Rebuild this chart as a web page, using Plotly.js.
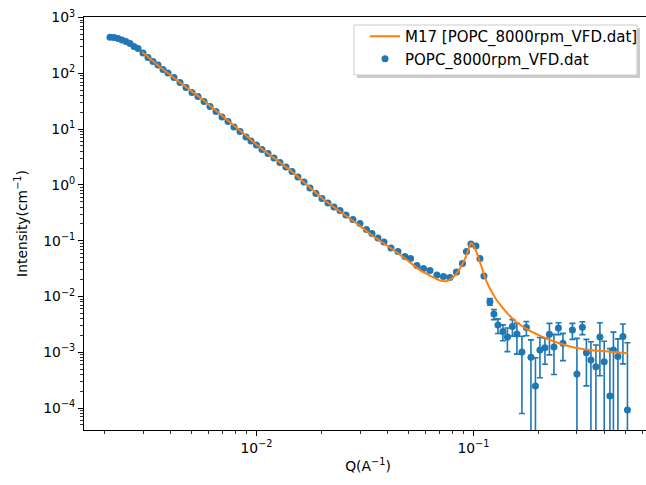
<!DOCTYPE html>
<html><head><meta charset="utf-8">
<script src="https://cdn.plot.ly/plotly-3.0.1.min.js"></script>
<style>html,body{margin:0;padding:0;overflow:hidden;background:#fff}</style>
</head><body><div id="chart" style="width:660px;height:485px"></div>
<script>
const seriesNames = ['M17 [POPC_8000rpm_VFD.dat]', 'POPC_8000rpm_VFD.dat'];

const q = [
  0.002113, 0.002204, 0.002300, 0.002400, 0.002504, 0.002613, 0.002726, 0.002844, 0.002999, 0.003162,
  0.003334, 0.003517, 0.003708, 0.003910, 0.004167, 0.004442, 0.004733, 0.005045, 0.005376, 0.005731,
  0.006107, 0.006508, 0.006934, 0.007391, 0.007876, 0.008395, 0.008947, 0.009434, 0.01000, 0.01060,
  0.01130, 0.01204, 0.01283, 0.01367, 0.01458, 0.01553, 0.01656, 0.01764, 0.01880, 0.02004,
  0.02136, 0.02276, 0.02426, 0.02585, 0.02784, 0.02999, 0.03213, 0.03406, 0.03631, 0.03870,
  0.04168, 0.04489, 0.04833, 0.05126, 0.05490, 0.05884, 0.06303, 0.06788, 0.07275, 0.07793,
  0.08350, 0.08897, 0.09284, 0.09738, 0.1027, 0.1072, 0.1118, 0.1191, 0.1243, 0.1297,
  0.1367, 0.1434, 0.1512, 0.1586, 0.1673, 0.1754, 0.1841, 0.1931, 0.2025, 0.2136,
  0.2240, 0.2350, 0.2465, 0.2585, 0.2859, 0.2999, 0.3178, 0.3316, 0.3479, 0.3668,
  0.3827, 0.4006, 0.4256, 0.4418, 0.4634, 0.4886, 0.5126
];
const intensity = [
  442, 438, 420, 395, 371.5, 342, 302, 278, 231, 191.9,
  162.7, 140.8, 117.0, 101.3, 84.1, 68.4, 55.7, 45.3, 38.4, 31.2,
  25.4, 20.7, 16.5, 13.7, 10.9, 9.06, 7.22, 6.12, 5.19, 4.31,
  3.65, 3.03, 2.52, 2.09, 1.74, 1.39, 1.13, 0.880, 0.701, 0.571,
  0.474, 0.402, 0.348, 0.289, 0.240, 0.203, 0.159, 0.135, 0.112, 0.0948,
  0.0740, 0.0640, 0.0521, 0.0480, 0.0359, 0.0318, 0.0292, 0.0243, 0.0228, 0.0219,
  0.0275, 0.0390, 0.0640, 0.0873, 0.0804, 0.0480, 0.0233, 0.00807, 0.00486, 0.00308,
  0.00236, 0.00188, 0.00290, 0.00213, 0.00101, 0.00278, 0.00082, 0.00025, 0.00110, 0.00121,
  0.00210, 0.00125, 0.00273, 0.00145, 0.00251, 0.000408, 0.00281, 0.00098, 0.000728, 0.000552,
  0.00188, 0.000679, 0.000165, 0.00110, 0.000841, 0.00192, 0.0000924
];
const dI = [
  8, 8, 7, 7, 6, 6, 5, 5, 4, 3.5,
  3, 2.6, 2.2, 1.9, 1.6, 1.3, 1.1, 0.9, 0.75, 0.62,
  0.51, 0.42, 0.34, 0.29, 0.23, 0.19, 0.16, 0.135, 0.115, 0.097,
  0.082, 0.069, 0.058, 0.049, 0.042, 0.034, 0.028, 0.023, 0.019, 0.016,
  0.0135, 0.0116, 0.0102, 0.0087, 0.0074, 0.0064, 0.0052, 0.0046, 0.0039, 0.0035,
  0.0029, 0.0026, 0.0022, 0.0021, 0.0017, 0.0016, 0.0015, 0.0013, 0.0013, 0.0013,
  0.0015, 0.0019, 0.0027, 0.0035, 0.0033, 0.0022, 0.0013, 0.0011, 0.0010, 0.0009,
  0.00075, 0.00085, 0.00095, 0.0012, 0.00093, 0.0008, 0.00085, 0.00055, 0.00075, 0.0006,
  0.0012, 0.00085, 0.00067, 0.00074, 0.0008, 0.00137, 0.00073, 0.00073, 0.00082, 0.0008,
  0.0015, 0.0009, 0.0010, 0.0012, 0.0009, 0.0013, 0.00139
];

const qFit = [
  0.002968, 0.003592, 0.004442, 0.005490, 0.006788, 0.008395, 0.01005, 0.01154, 0.01427, 0.01709,
  0.02025, 0.02426, 0.02874, 0.03442, 0.04123, 0.04937, 0.05669, 0.06303, 0.07008, 0.07545,
  0.08046, 0.08484, 0.08947, 0.09333, 0.09738, 0.1005, 0.1049, 0.1094, 0.1142, 0.1191,
  0.1270, 0.1367, 0.1473, 0.1586, 0.1764, 0.2025, 0.2325, 0.2785, 0.3441, 0.4256, 0.5152
];
const iFit = [
  240.8, 129.7, 68.4, 36.84, 18.64, 9.44, 5.19, 3.43, 1.849, 0.996,
  0.559, 0.3337, 0.2076, 0.1214, 0.0755, 0.04509, 0.02985, 0.02378, 0.01935, 0.01896,
  0.02190, 0.02805, 0.03985, 0.05776, 0.0910, 0.0804, 0.0532, 0.03242, 0.01976, 0.01391,
  0.009019, 0.006222, 0.004472, 0.003420, 0.002616, 0.002000, 0.001594, 0.001270, 0.001100, 0.001025, 0.000960
];

const xTickVals = [0.01, 0.1];
const xTickText = ['10<sup>−2</sup>', '10<sup>−1</sup>'];
const yTickVals = [1e-4, 1e-3, 1e-2, 1e-1, 1, 10, 100, 1000];
const yTickText = ['10<sup>−4</sup>', '10<sup>−3</sup>', '10<sup>−2</sup>', '10<sup>−1</sup>',
                   '10<sup>0</sup>', '10<sup>1</sup>', '10<sup>2</sup>', '10<sup>3</sup>'];

function minorTicks(kLo, kHi, lo, hi) {
  const out = [];
  for (let k = kLo; k <= kHi; k++) {
    for (let m = 2; m <= 9; m++) {
      const v = m * Math.pow(10, k);
      if (v >= lo && v <= hi) out.push(v);
    }
  }
  return out;
}
const xRange = [-2.795, -0.177];
const yRange = [-4.392, 3.01];
const xMinor = minorTicks(-4, 0, Math.pow(10, xRange[0]), Math.pow(10, xRange[1]));
const yMinor = minorTicks(-5, 3, Math.pow(10, yRange[0]), Math.pow(10, yRange[1]));

// plot-area pixel geometry helpers (for the legend frame)
const PL = 84, PW = 568, PB = 430, PH = 413;
const px = v => (v - PL) / PW;
const py = v => (PB - v) / PH;

const dataTrace = {
  x: q, y: intensity, type: 'scatter', mode: 'markers', name: seriesNames[1],
  legendrank: 2,
  marker: {color: '#1f77b4', size: 7},
  error_y: {type: 'data', array: dI, visible: true, color: '#1f77b4', thickness: 1.6, width: 3}
};
const fitTrace = {
  x: qFit, y: iFit, type: 'scatter', mode: 'lines', name: seriesNames[0],
  legendrank: 1,
  line: {color: '#ff7f0e', width: 2, shape: 'spline', smoothing: 0.5}
};

const axisCommon = {
  type: 'log', ticks: 'outside', ticklen: 5, tickwidth: 1, tickcolor: 'black',
  showline: true, linecolor: 'black', linewidth: 1, mirror: true,
  showgrid: false, zeroline: false, automargin: false,
  tickfont: {family: 'DejaVu Sans', size: 13.9, color: 'black'}
};

const layout = {
  width: 660, height: 485,
  margin: {l: 84, r: 8, t: 17, b: 55, pad: 0},
  paper_bgcolor: 'white', plot_bgcolor: 'white',
  font: {family: 'DejaVu Sans', size: 13.9, color: 'black'},
  showlegend: true,
  legend: {
    x: px(643), xanchor: 'right', y: py(20), yanchor: 'top',
    bgcolor: 'rgba(0,0,0,0)', borderwidth: 0,
    font: {family: 'DejaVu Sans', size: 15.0, color: 'black'},
    traceorder: 'normal'
  },
  shapes: [
    {type: 'rect', xref: 'paper', yref: 'paper', layer: 'above',
     x0: px(357), x1: px(640), y0: py(78), y1: py(28),
     fillcolor: 'rgba(110,110,110,0.35)', line: {width: 0}},
    {type: 'rect', xref: 'paper', yref: 'paper', layer: 'above',
     x0: px(354), x1: px(637), y0: py(75), y1: py(25),
     fillcolor: 'white', line: {color: '#cccccc', width: 1}}
  ],
  xaxis: Object.assign({}, axisCommon, {
    range: xRange, tickmode: 'array', tickvals: xTickVals, ticktext: xTickText,
    minor: {tickmode: 'array', tickvals: xMinor, ticks: 'outside', ticklen: 3, tickwidth: 0.8, tickcolor: 'black', showgrid: false},
    title: {text: 'Q(A<sup>−1</sup>)', font: {family: 'DejaVu Sans', size: 13.9, color: 'black'}, standoff: 6}
  }),
  yaxis: Object.assign({}, axisCommon, {
    range: yRange, tickmode: 'array', tickvals: yTickVals, ticktext: yTickText,
    minor: {tickmode: 'array', tickvals: yMinor, ticks: 'outside', ticklen: 3, tickwidth: 0.8, tickcolor: 'black', showgrid: false},
    title: {text: 'Intensity(cm<sup>−1</sup>)', font: {family: 'DejaVu Sans', size: 13.9, color: 'black'}, standoff: 12}
  })
};

Plotly.newPlot('chart', [dataTrace, fitTrace], layout, {displayModeBar: false, staticPlot: true});
</script>
</body></html>
